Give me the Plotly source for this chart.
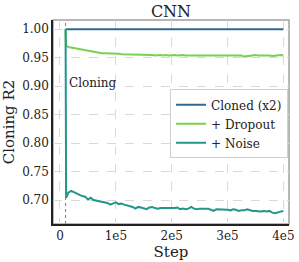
import plotly.graph_objects as go

# ---- data ----
steps = [10000, 11000] + list(range(15000, 400001, 5000))

cloned_steps = [10000, 400000]
cloned_r2 = [1.0, 1.0]

dropout_r2 = [1.0, 0.971,
    0.969, 0.968, 0.967, 0.966, 0.965, 0.964, 0.963, 0.962, 0.961, 0.960,
    0.960, 0.959, 0.958, 0.958, 0.958, 0.957, 0.957, 0.957, 0.957, 0.956,
    0.956, 0.956, 0.956, 0.955, 0.956, 0.955, 0.955, 0.955, 0.955, 0.955,
    0.955, 0.954, 0.955, 0.955, 0.954, 0.955, 0.954, 0.955, 0.955, 0.954,
    0.955, 0.955, 0.954, 0.954, 0.955, 0.954, 0.955, 0.955, 0.955, 0.954,
    0.954, 0.955, 0.954, 0.955, 0.954, 0.955, 0.954, 0.954, 0.955, 0.954,
    0.955, 0.954, 0.954, 0.952, 0.953, 0.954, 0.954, 0.955, 0.954, 0.954,
    0.954, 0.955, 0.954, 0.953, 0.954, 0.954, 0.955, 0.954]

noise_r2 = [1.0, 0.704,
    0.713, 0.716, 0.714, 0.711, 0.709, 0.707, 0.706, 0.701, 0.704, 0.700,
    0.699, 0.699, 0.697, 0.696, 0.695, 0.692, 0.694, 0.696, 0.693, 0.694,
    0.692, 0.691, 0.689, 0.688, 0.685, 0.688, 0.687, 0.686, 0.684, 0.687,
    0.688, 0.686, 0.685, 0.686, 0.686, 0.686, 0.685, 0.686, 0.686, 0.687,
    0.684, 0.685, 0.684, 0.685, 0.688, 0.685, 0.684, 0.685, 0.685, 0.684,
    0.685, 0.683, 0.681, 0.684, 0.684, 0.683, 0.684, 0.683, 0.682, 0.684,
    0.683, 0.681, 0.682, 0.682, 0.684, 0.682, 0.681, 0.681, 0.680, 0.680,
    0.681, 0.680, 0.681, 0.678, 0.677, 0.678, 0.680, 0.681]

x_tickvals = [0, 100000, 200000, 300000, 400000]
x_ticktext = ["0", "1e5", "2e5", "3e5", "4e5"]
y_tickvals = [0.70, 0.75, 0.80, 0.85, 0.90, 0.95, 1.00]
y_ticktext = ["0.70", "0.75", "0.80", "0.85", "0.90", "0.95", "1.00"]

cloning_step = 10000

FONT = "'DejaVu Serif', 'Liberation Serif', serif"

fig = go.Figure()
fig.add_trace(go.Scatter(x=cloned_steps, y=cloned_r2, mode="lines", name="Cloned (x2)",
                         line=dict(color="#2f6890", width=2)))
fig.add_trace(go.Scatter(x=steps, y=dropout_r2, mode="lines", name="+ Dropout",
                         line=dict(color="#7ad151", width=2)))
fig.add_trace(go.Scatter(x=steps, y=noise_r2, mode="lines", name="+ Noise",
                         line=dict(color="#21968a", width=2)))

fig.add_shape(type="line", xref="x", yref="paper", x0=cloning_step, x1=cloning_step,
              y0=0, y1=1, line=dict(color="#7b6fc9", width=1, dash="dot"), layer="below")
# gray frame (top / right)
fig.add_shape(type="rect", xref="paper", yref="paper", x0=0, x1=1, y0=0, y1=1,
              line=dict(color="#a0a0a0", width=1.5), layer="below")

fig.add_annotation(x=cloning_step, y=0.905, xref="x", yref="y", text="Cloning",
                   showarrow=False, xanchor="left", xshift=1,
                   font=dict(family=FONT, size=12, color="#222"))

fig.update_layout(
    width=299, height=262,
    margin=dict(l=53, r=10, t=20, b=38, autoexpand=False),
    plot_bgcolor="white", paper_bgcolor="white",
    font=dict(family=FONT, color="#222"),
    title=dict(text="CNN", x=0.5, xref="paper", xanchor="center",
               y=0.958, yref="container", yanchor="middle",
               font=dict(family=FONT, size=16, color="#222"), automargin=False),
    legend=dict(x=0.996, xanchor="right", y=0.66, yanchor="top",
                bgcolor="white", bordercolor="#d0d0d0", borderwidth=1,
                font=dict(family=FONT, size=12, color="#222"),
                tracegroupgap=0, itemwidth=30),
    showlegend=True,
)
fig.update_xaxes(range=[-12500, 410000], tickvals=x_tickvals, ticktext=x_ticktext,
                 automargin=False,
                 showgrid=True, gridcolor="#d9d9d9", griddash="dash", gridwidth=1,
                 zeroline=False, showline=True, linecolor="#222", linewidth=1.5,
                 ticks="", tickfont=dict(family=FONT, size=12, color="#222"),
                 title=dict(text="Step", font=dict(family=FONT, size=15, color="#222"),
                            standoff=2))
fig.update_yaxes(range=[0.658, 1.0163], tickvals=y_tickvals, ticktext=y_ticktext,
                 automargin=False,
                 showgrid=True, gridcolor="#d9d9d9", griddash="dash", gridwidth=1,
                 zeroline=False, showline=True, linecolor="#222", linewidth=1.5,
                 ticks="", tickfont=dict(family=FONT, size=12, color="#222"),
                 title=dict(text="Cloning R2", font=dict(family=FONT, size=15, color="#222"),
                            standoff=4))

fig.write_html("out.html", config={"displayModeBar": False},
               post_script="document.body.style.margin='0';document.body.style.padding='0';")
